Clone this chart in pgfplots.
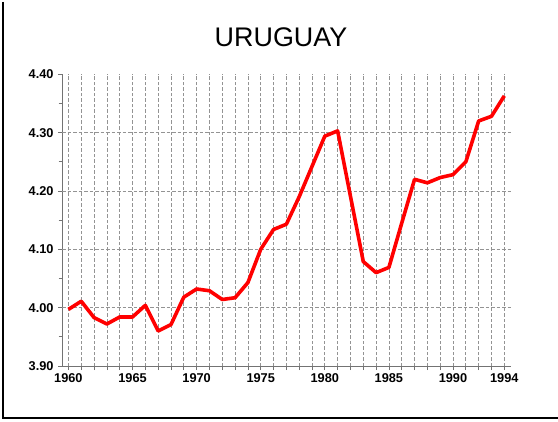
\documentclass[border=0pt]{standalone}
\usepackage{fontspec}
\setmainfont{Liberation Sans}
\usepackage{pgfplots}
\pgfplotsset{compat=1.18}
\begin{document}
\begin{tikzpicture}[x=1bp,y=1bp]
\path[use as bounding box] (0,0) rectangle (558,421);
\draw[black, line width=1.6bp] (3,419) -- (3,3) -- (558,3);
\node[font=\fontsize{27}{30}\selectfont] at (281,384) {URUGUAY};
\begin{axis}[
  at={(62bp,55bp)}, anchor=south west,
  scale only axis, width=448.7bp, height=291.7bp,
  xmin=1959.5, xmax=1994.5, ymin=3.9, ymax=4.4,
  axis x line=bottom, axis y line=left,
  axis line style={-, draw=gray!90!black, line width=0.8bp},
  xtick={1960,...,1994},
  xticklabels={1960,,,,,1965,,,,,1970,,,,,1975,,,,,1980,,,,,1985,,,,,1990,,,,1994},
  ytick={3.9,4.0,4.1,4.2,4.3,4.4},
  minor ytick={3.95,4.05,4.15,4.25,4.35},
  yticklabel style={/pgf/number format/fixed,/pgf/number format/fixed zerofill,/pgf/number format/precision=2, xshift=-1bp},
  /pgf/number format/assume math mode=true,
  ticklabel style={font=\fontsize{12.8}{14}\selectfont\bfseries},
  tick align=outside,
  major tick length=4bp, minor tick length=3.5bp,
  tick style={draw=gray!90!black, line width=0.7bp},
  xmajorgrids=true,
  major grid style={draw=gray!85, line width=0.7bp, dash pattern=on 3.5bp off 2bp},
  extra y ticks={4.0,4.1,4.2,4.3},
  extra y tick labels={},
  extra y tick style={grid=major, major tick length=0pt},
  xticklabel style={yshift=-0.5bp},
  clip=false,
]
\addplot[red, line width=3.6bp, line join=round] coordinates {
(1960,3.997) (1961,4.011) (1962,3.983) (1963,3.972) (1964,3.984)
(1965,3.984) (1966,4.004) (1967,3.960) (1968,3.971) (1969,4.018)
(1970,4.032) (1971,4.029) (1972,4.014) (1973,4.017) (1974,4.043)
(1975,4.100) (1976,4.134) (1977,4.143) (1978,4.190) (1979,4.242)
(1980,4.294) (1981,4.303) (1982,4.191) (1983,4.079) (1984,4.060)
(1985,4.069) (1986,4.145) (1987,4.220) (1988,4.214) (1989,4.223)
(1990,4.228) (1991,4.250) (1992,4.320) (1993,4.328) (1994,4.363)
};
\end{axis}
\end{tikzpicture}
\end{document}
